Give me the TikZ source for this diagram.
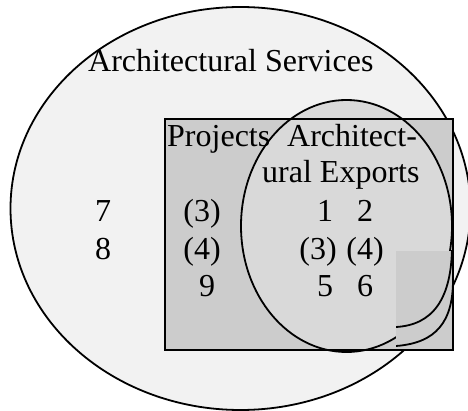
\documentclass[tikz,border=0pt]{standalone}
\usepackage{fontspec}
\setmainfont{Liberation Serif}
\usepackage{xcolor}
\usetikzlibrary{positioning}

\definecolor{outerfill}{HTML}{F2F2F2}
\definecolor{boxfill}{HTML}{CCCCCC}
\definecolor{innerfill}{HTML}{D9D9D9}

\begin{document}
\begin{tikzpicture}[x=1pt, y=-1pt,
    setline/.style={draw=black, line width=1.8pt},
    boxline/.style={draw=black, line width=1.4pt},
    lbl/.style={inner sep=0pt, font=\fontsize{32}{37}\selectfont, anchor=base},
    lblw/.style={lbl, anchor=base west}
]
    \useasboundingbox (0,0) rectangle (468,411);

    % Sets
    \path[setline, fill=outerfill] (240.5,208.5) ellipse [x radius=230, y radius=201.5];
    \path[boxline, fill=boxfill] (165,119) rectangle (453,350);
    \path[setline, fill=innerfill] (346.5,226) ellipse [x radius=105.5, y radius=126];

    % Lower right patch
    \fill[boxfill] (396,251) rectangle (453,350);
    \begin{scope}
        \clip (396,251) rectangle (453,350);
        \draw[setline] (396,327) .. controls (432,325) and (452,300) .. (452,245);
        \draw[setline] (396,346) .. controls (436,343) and (453,322) .. (453,280);
    \end{scope}
    \path[boxline] (165,119) rectangle (453,350);

    % Labels
    \node[lblw] (services) at (88,72) {Architectural Services};
    \node[lblw] (projects) at (167,147) {Projects};
    \node[lblw] (exportsA) at (287,147) {Architect-};
    \node[lblw] (exportsB) at (262,183) {ural Exports};

    % Elements
    \node[lbl] (n7) at (103,222) {7};
    \node[lbl] (n8) at (103,260) {8};
    \node[lbl] (p3) at (202,222) {(3)};
    \node[lbl] (p4) at (202,260) {(4)};
    \node[lbl] (n9) at (207,297) {9};
    \node[lbl] (n1) at (325,222) {1};
    \node[lbl] (n2) at (365,222) {2};
    \node[lbl] (e3) at (318,260) {(3)};
    \node[lbl] (e4) at (365,260) {(4)};
    \node[lbl] (n5) at (325,297) {5};
    \node[lbl] (n6) at (365,297) {6};

\end{tikzpicture}
\end{document}
